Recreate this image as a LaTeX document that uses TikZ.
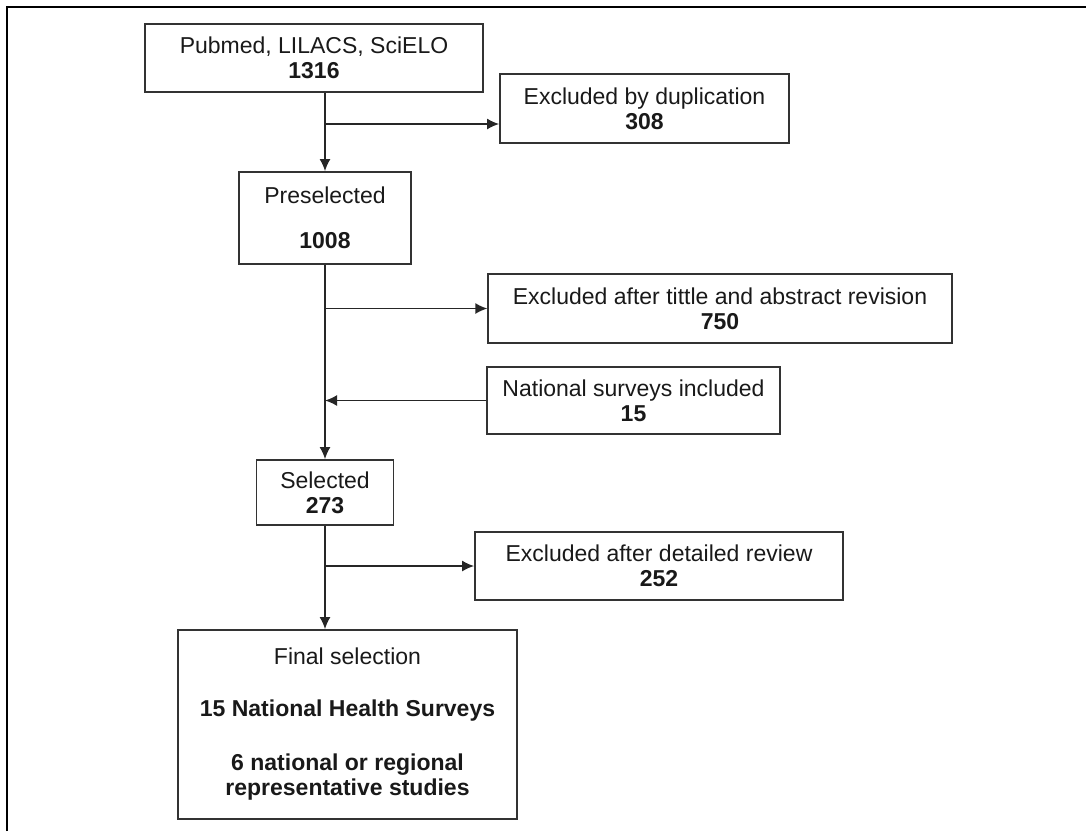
\documentclass[tikz,border=0pt]{standalone}
\usepackage{fontspec}
\setmainfont{Liberation Sans}
\usepackage{tikz}
\usetikzlibrary{arrows.meta}
\usetikzlibrary{calc}
\tikzset{>={Latex[length=6pt,width=5.5pt]}}
\tikzset{
	box/.style={draw=black!80, line width=0.9pt, inner sep=0pt, align=center, text=black!90, font=\fontsize{11.5}{12.5}\selectfont},
	link/.style={->, line width=0.8pt, draw=black!85},
}

\begin{document}
\begin{tikzpicture}[x=0.5pt,y=-0.5pt]
		\useasboundingbox (0,0) rectangle (1086,831);
		\draw[line width=1.2pt] (7,831) -- (7,7) -- (1086,7);
		\node[box, minimum width=169pt, minimum height=34pt] (pub) at (314,58) {Pubmed, LILACS, SciELO\\\textbf{1316}};
		\node[box, minimum width=144.5pt, minimum height=34.5pt] (dup) at (644.5,108.5) {Excluded by duplication\\\textbf{308}};
		\node[box, minimum width=86pt, minimum height=46pt] (pre) at (325,218) {Preselected\\[10pt]\textbf{1008}};
		\node[box, minimum width=231.75pt, minimum height=34.5pt] (tit) at (720,308.5) {Excluded after tittle and abstract revision\\\textbf{750}};
		\node[box, minimum width=146.5pt, minimum height=33.5pt] (nat) at (633.5,400.5) {National surveys included\\\textbf{15}};
		\node[box, minimum width=68.5pt, minimum height=32.5pt] (sel) at (325,492.5) {Selected\\\textbf{273}};
		\node[box, minimum width=184pt, minimum height=34pt] (det) at (659,566) {Excluded after detailed review\\\textbf{252}};
		\node[box, minimum width=169.5pt, minimum height=94.5pt] (fin) at (347.5,724.5) {Final selection\\[13.5pt]\textbf{15 National Health Surveys}\\[14.5pt]\textbf{6 national or regional}\\\textbf{representative studies}};
		\coordinate (fork) at (325,124);
		\draw[link] (pub.south -| pre.north) -- (pre.north);
		\draw[link] (fork) -- (fork -| dup.west);
		\draw[link] (pre.south) -- (sel.north);
		\draw[link] (tit.west -| pre.south) -- (tit.west);
		\draw[link] (nat.west) -- (nat.west -| pre.south);
		\draw[link] (sel.south) -- (sel.south |- fin.north);
		\draw[link] (det.west -| sel.south) -- (det.west);
	\end{tikzpicture}
\end{document}
